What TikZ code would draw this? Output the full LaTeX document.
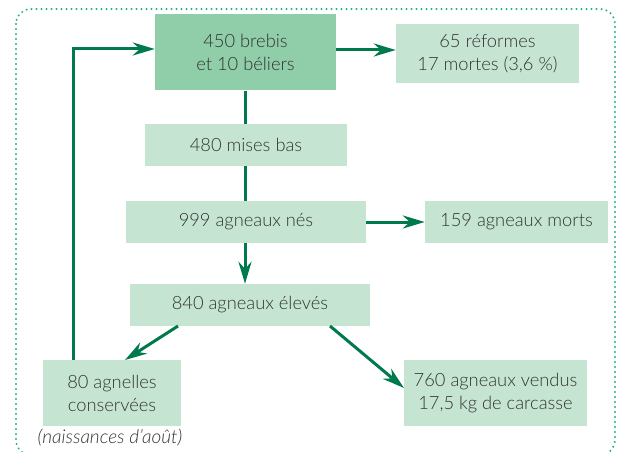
\documentclass[tikz,border=0pt]{standalone}
\usepackage{fontspec}
\IfFontExistsTF{Lato Light}{\setmainfont{Lato Light}[ItalicFont={Lato Light Italic}]}{\setmainfont{Lato}}
\usetikzlibrary{arrows.meta}
\definecolor{boxlight}{HTML}{C5E5D2}
\definecolor{boxdark}{HTML}{8FCEA9}
\definecolor{arrowgreen}{HTML}{007A4C}
\definecolor{dotgreen}{HTML}{22B07E}
\definecolor{txt}{HTML}{333333}
\tikzset{
  flowbox/.style={fill=boxlight, draw=none, inner sep=0pt, align=center, text=txt,
    font=\fontsize{18.3}{23}\selectfont},
  flowarrow/.style={draw=arrowgreen, line width=3pt,
    -{Stealth[length=22pt, width=13pt, inset=7pt]}},
  flowline/.style={draw=arrowgreen, line width=3pt},
}
\begin{document}
\begin{tikzpicture}[x=1pt, y=-1pt]
\useasboundingbox (0,0) rectangle (619,452);
\draw[dotgreen, line width=2.2pt, line cap=round, dash pattern=on 0pt off 5pt, rounded corners=15pt]
  (16,9) rectangle (615,455);

\node[flowbox, fill=boxdark, minimum width=181pt, minimum height=76pt] (A) at (245.5,52.5) {450 brebis\\et 10 béliers};
\node[flowbox, minimum width=183pt, minimum height=59pt] (B) at (487.5,53.5) {65 réformes\\17 mortes (3,6 \%)};
\node[flowbox, minimum width=202pt, minimum height=42pt] (C) at (246,145) {480 mises bas};
\node[flowbox, minimum width=240pt, minimum height=42pt] (D) at (246,222) {999 agneaux nés};
\node[flowbox, minimum width=183pt, minimum height=42pt] (E) at (516.5,222) {159 agneaux morts};
\node[flowbox, minimum width=240pt, minimum height=42pt] (F) at (250,305) {840 agneaux élevés};
\node[flowbox, minimum width=138pt, minimum height=66pt] (G) at (112,393) {80 agnelles\\conservées};
\node[flowbox, minimum width=183pt, minimum height=66pt] (H) at (495.5,393) {760 agneaux vendus\\17,5 kg de carcasse};
\node[text=txt, font=\fontsize{19}{22}\selectfont\itshape, inner sep=0pt] (N) at (110,438) {(naissances d’août)};

\coordinate (Gtop) at (73,360);
\coordinate (corner) at (73,49);
\draw[flowarrow] (Gtop) -- (corner) -- (A.west |- corner);
\draw[flowarrow] (A.east |- 0,50) -- (B.west |- 0,50);
\draw[flowline] (A.south -| 245,0) -- (C.north -| 245,0);
\draw[flowline] (C.south -| 245,0) -- (D.north -| 245,0);
\draw[flowarrow] (D.south -| 245,0) -- (F.north -| 245,0);
\draw[flowarrow] (D.east) -- (E.west);
\coordinate (F1) at (178,326);
\coordinate (G1) at (125,360);
\draw[flowarrow] (F1) -- (G1);
\coordinate (F2) at (330,326);
\coordinate (H1) at (404,388);
\draw[flowarrow] (F2) -- (H1);
\end{tikzpicture}
\end{document}
